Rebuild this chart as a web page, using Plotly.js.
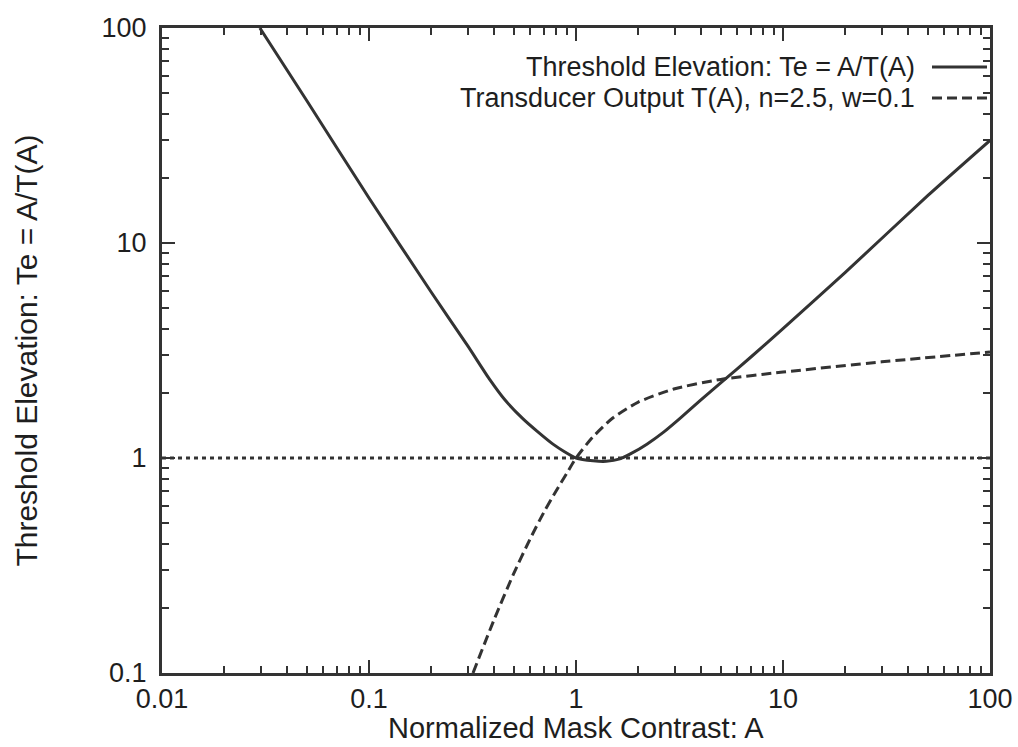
<!DOCTYPE html>
<html>
<head>
<meta charset="utf-8">
<script src="https://cdn.plot.ly/plotly-3.0.1.min.js"></script>
<style>html,body{margin:0;padding:0;background:#fff;}#chart{width:1018px;height:747px;}</style>
</head>
<body>
<div id="chart"></div>
<script>
// Threshold elevation Te = A/T(A) (solid)
const teContrast = [0.0297, 0.05, 0.1, 0.2, 0.3, 0.385, 0.45, 0.555, 0.65, 0.774, 0.88, 1.0, 1.21, 1.4, 1.63, 1.85, 2.2, 2.65, 3.18, 4.0, 5.1, 7.0, 10, 20, 50, 100];
const teValues   = [100, 46, 16.2, 5.9, 3.32, 2.3, 1.88, 1.52, 1.33, 1.16, 1.07, 1.0, 0.97, 0.965, 0.99, 1.05, 1.16, 1.32, 1.53, 1.86, 2.27, 2.95, 4.0, 7.3, 16.6, 30];
// Transducer output T(A), n=2.5, w=0.1 (dashed)
const tContrast = [0.318, 0.4, 0.5, 0.6, 0.7, 0.8, 0.9, 1.0, 1.2, 1.5, 2.0, 3.0, 5.0, 10, 30, 100];
const tValues   = [0.1, 0.175, 0.29, 0.42, 0.56, 0.70, 0.845, 1.0, 1.245, 1.53, 1.82, 2.10, 2.32, 2.51, 2.80, 3.11];
// Reference level (dotted)
const refContrast = [0.01, 100];
const refValues = [1, 1];
// Legend / axis text
const legendLabels = ["Threshold Elevation: Te = A/T(A)", "Transducer Output T(A), n=2.5, w=0.1"];
const xTitle = "Normalized Mask Contrast: A";
const yTitle = "Threshold Elevation: Te = A/T(A)";

const ink = '#333';
const txt = '#1e1e1e';
const FONT = 'Liberation Sans, Arial, Helvetica, sans-serif';

const traces = [
  {x: teContrast, y: teValues, type: 'scatter', mode: 'lines', name: legendLabels[0],
   line: {color: ink, width: 3, shape: 'spline', smoothing: 0.6}, showlegend: false},
  {x: tContrast, y: tValues, type: 'scatter', mode: 'lines', name: legendLabels[1],
   line: {color: ink, width: 3, dash: '10px,5px', shape: 'spline', smoothing: 0.6}, showlegend: false},
  {x: refContrast, y: refValues, type: 'scatter', mode: 'lines', name: 'ref',
   line: {color: ink, width: 3, dash: '4px,4px'}, showlegend: false}
];

const axisCommon = {
  type: 'log', showgrid: false, zeroline: false,
  showline: true, linecolor: '#333', linewidth: 3, mirror: 'ticks',
  tickmode: 'linear', tick0: 0, dtick: 1,
  ticks: 'inside', ticklen: 13, tickwidth: 2, tickcolor: '#333',
  tickfont: {family: FONT, size: 27, color: txt},
  minor: {dtick: 'D1', ticks: 'inside', ticklen: 7, tickwidth: 2, tickcolor: '#333', showgrid: false}
};

const L = 162, R = 990, T = 28, B = 673;
const px = v => (v - L) / (R - L);
const py = v => (B - v) / (B - T);

const layout = {
  width: 1018, height: 747,
  margin: {l: L, r: 1018 - R, t: T, b: 747 - B},
  paper_bgcolor: '#fff', plot_bgcolor: '#fff',
  showlegend: false,
  xaxis: Object.assign({}, axisCommon, {
    range: [-2, 2],
    title: {text: ''}
  }),
  yaxis: Object.assign({}, axisCommon, {
    range: [-1, 2], ticklabelstandoff: 7,
    title: {text: yTitle, font: {family: FONT, size: 30, color: txt}, standoff: 56}
  }),
  annotations: [
    {xref: 'paper', yref: 'paper', x: 0.5, y: py(728), xanchor: 'center', yanchor: 'middle',
     text: xTitle, showarrow: false, font: {family: FONT, size: 29, color: txt}},
    {xref: 'paper', yref: 'paper', x: px(917), y: py(67), xanchor: 'right', yanchor: 'middle',
     text: legendLabels[0], showarrow: false, font: {family: FONT, size: 27, color: txt}},
    {xref: 'paper', yref: 'paper', x: px(917), y: py(98), xanchor: 'right', yanchor: 'middle',
     text: legendLabels[1], showarrow: false, font: {family: FONT, size: 27, color: txt}}
  ],
  shapes: [
    {type: 'line', xref: 'paper', yref: 'paper', x0: px(932), x1: px(987), y0: py(67), y1: py(67),
     line: {color: ink, width: 3}},
    {type: 'line', xref: 'paper', yref: 'paper', x0: px(932), x1: px(987), y0: py(98), y1: py(98),
     line: {color: ink, width: 3, dash: '10px,5px'}}
  ]
};

Plotly.newPlot('chart', traces, layout, {displayModeBar: false, staticPlot: true});
</script>
</body>
</html>
